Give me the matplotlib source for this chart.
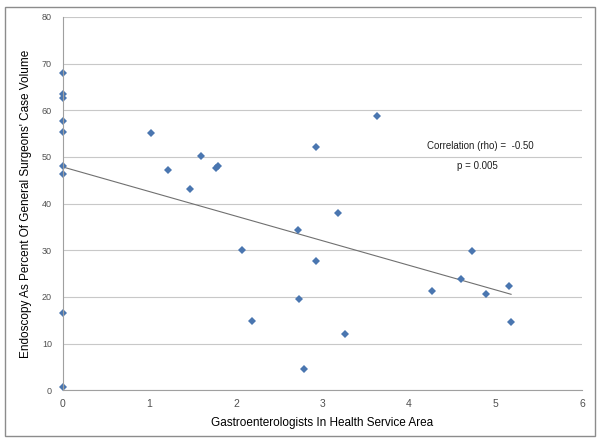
import numpy as np
import matplotlib
matplotlib.use('Agg')
import matplotlib.pyplot as plt
from matplotlib.patches import Rectangle

plt.rcParams['font.family'] = ['Liberation Sans', 'DejaVu Sans']

# data
gastro = [0, 0, 0, 0, 0, 0, 0, 0, 0,
          1.02, 1.21, 1.47, 1.59, 1.77, 1.79,
          2.07, 2.18, 2.72, 2.73, 2.79, 2.92, 2.92, 3.18, 3.26, 3.63,
          4.27, 4.60, 4.73, 4.89, 5.16, 5.18]
endo_pct = [68.0, 63.6, 62.7, 57.7, 55.3, 48.0, 46.3, 16.5, 0.7,
            55.1, 47.2, 43.2, 50.3, 47.7, 48.1,
            30.1, 14.9, 34.4, 19.5, 4.6, 52.2, 27.8, 38.1, 12.0, 58.8,
            21.3, 23.8, 29.8, 20.7, 22.3, 14.7]

x = np.array(gastro)
y = np.array(endo_pct)
slope, intercept = np.polyfit(x, y, 1)

fig = plt.figure(figsize=(6, 4.42), dpi=100)
fig.patches.append(Rectangle((5/600, 1-436/442), 590/600, 429/442, transform=fig.transFigure,
                             fill=False, edgecolor='#8c8c8c', linewidth=1))
ax = fig.add_axes([63/600, 1-390.3/442, (582-63)/600, (390.3-17)/442])

ax.set_xlim(0, 6)
ax.set_ylim(0, 80)
ax.set_xticks(range(0, 7))
ax.set_yticks(range(0, 81, 10))
ax.yaxis.grid(True, color='#c8c8c8', linewidth=0.8)
ax.set_axisbelow(True)
for s in ['top', 'right']:
    ax.spines[s].set_visible(False)
ax.spines['left'].set_color('#a0a0a0')
ax.spines['bottom'].set_color('#a0a0a0')
ax.tick_params(axis='both', length=0, colors='#505050')
ax.tick_params(axis='y', labelsize=6.5, pad=8)
ax.tick_params(axis='x', labelsize=7.5, pad=6)

xs = np.array([0, x.max()])
ax.plot(xs, intercept + slope * xs, color='#707070', linewidth=0.8)
ax.plot(x, y, 'D', color='#4a76b0', markersize=4.3, markeredgewidth=0, clip_on=False)

ax.text(4.21, 52.4, 'Correlation (rho) =  -0.50', fontsize=7, va='center', color='#202020')
ax.text(4.55, 48.1, 'p = 0.005', fontsize=7, va='center', color='#202020')

ax.set_xlabel('Gastroenterologists In Health Service Area', fontsize=8.5, labelpad=6)
ax.set_ylabel("Endoscopy As Percent Of General Surgeons' Case Volume", fontsize=8.5, labelpad=7)

fig.savefig('out.png', dpi=100)
